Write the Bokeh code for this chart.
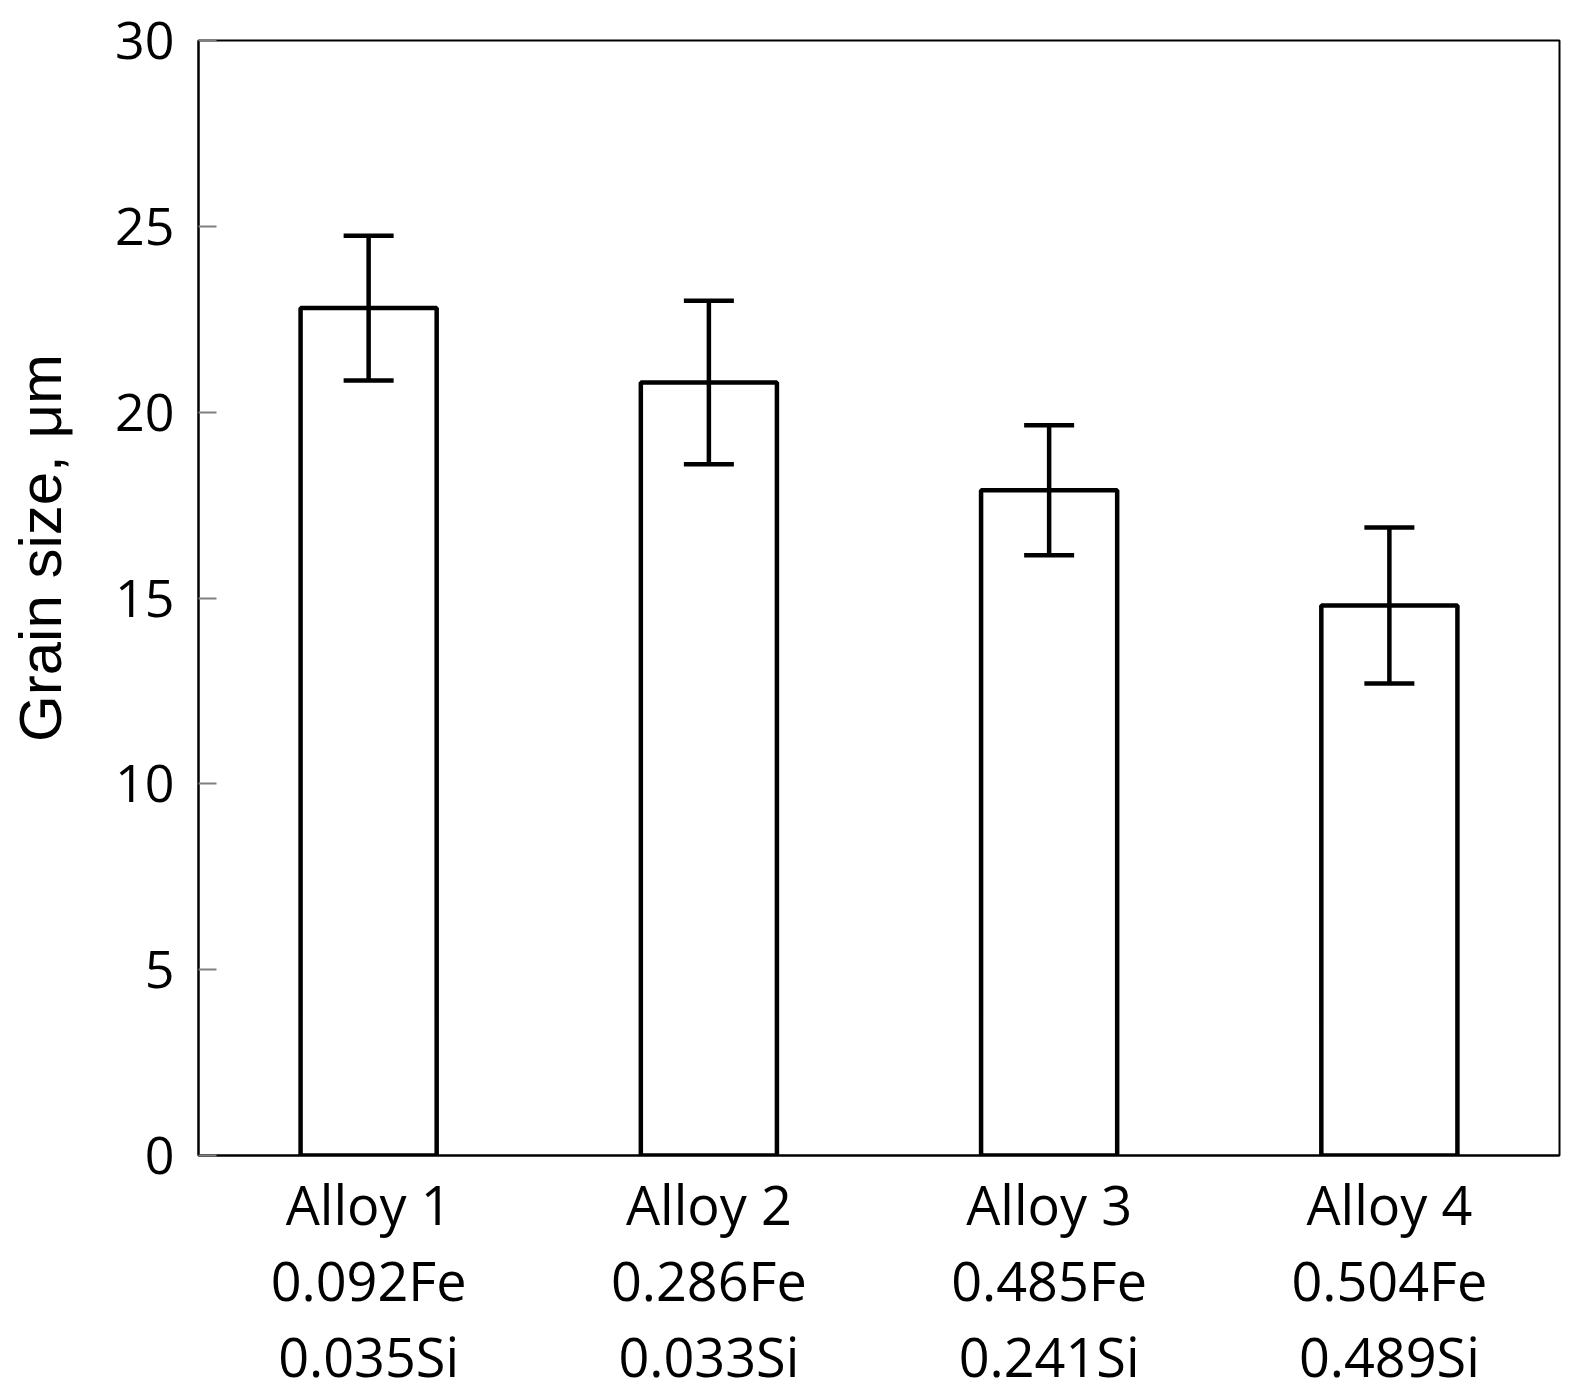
from bokeh.plotting import figure
from bokeh.models import (ColumnDataSource, Whisker, TeeHead, FixedTicker, Range1d,
                          FactorRange, CategoricalAxis)
from bokeh.embed import file_html
from bokeh.resources import INLINE

alloys = ["Alloy 1", "Alloy 2", "Alloy 3", "Alloy 4"]
fe = ["0.092Fe", "0.286Fe", "0.485Fe", "0.504Fe"]
si = ["0.035Si", "0.033Si", "0.241Si", "0.489Si"]
grain = [22.8, 20.8, 17.9, 14.8]
err = [1.95, 2.2, 1.75, 2.1]
yticks = [0, 5, 10, 15, 20, 25, 30]

FONT = "Open Sans"
FS = "54px"

src = ColumnDataSource(dict(
    x=alloys, top=grain,
    upper=[g + e for g, e in zip(grain, err)],
    lower=[g - e for g, e in zip(grain, err)],
))

p = figure(x_range=FactorRange(*alloys, range_padding=0), y_range=Range1d(0, 30),
           width=1567, height=1395, output_backend="svg", toolbar_location=None,
           min_border_left=198, min_border_top=40, min_border_right=8, min_border_bottom=20)
p.extra_x_ranges = {"fe": FactorRange(*fe, range_padding=0),
                    "si": FactorRange(*si, range_padding=0)}

p.vbar(x="x", top="top", width=0.4, source=src, fill_color="white",
       line_color="black", line_width=4.5)

w = Whisker(base="x", upper="upper", lower="lower", source=src,
            line_color="black", line_width=4.5, level="overlay",
            upper_head=TeeHead(size=50, line_width=4.5, line_color="black"),
            lower_head=TeeHead(size=50, line_width=4.5, line_color="black"))
p.add_layout(w)

p.xgrid.visible = False
p.ygrid.visible = False
p.outline_line_color = "black"
p.outline_line_width = 2
p.background_fill_color = "white"
p.border_fill_color = "white"

p.yaxis.ticker = FixedTicker(ticks=yticks)
p.yaxis.major_tick_in = 18
p.yaxis.major_tick_out = 0
p.yaxis.major_tick_line_color = "#808080"
p.yaxis.major_tick_line_width = 2
p.yaxis.minor_tick_line_color = None
p.yaxis.axis_line_color = "black"
p.yaxis.axis_line_width = 2
p.yaxis.major_label_standoff = 24
p.yaxis.major_label_text_font = FONT
p.yaxis.major_label_text_font_size = "52px"
p.yaxis.major_label_text_color = "black"
p.yaxis.axis_label = "\u00a0" * 6 + "Grain size, μm"
p.yaxis.axis_label_text_font = "Liberation Sans"
p.yaxis.axis_label_text_font_size = "60px"
p.yaxis.axis_label_text_font_style = "normal"
p.yaxis.axis_label_text_color = "black"
p.yaxis.axis_label_standoff = 38


def style_x(ax, standoff):
    ax.major_tick_line_color = None
    ax.minor_tick_line_color = None
    ax.major_label_standoff = standoff
    ax.major_label_text_font = FONT
    ax.major_label_text_font_size = FS
    ax.major_label_text_color = "black"


style_x(p.xaxis[0], 5)
p.xaxis[0].axis_line_color = "black"
p.xaxis[0].axis_line_width = 2

ax2 = CategoricalAxis(x_range_name="fe", axis_line_color=None)
style_x(ax2, -7)
p.add_layout(ax2, "below")

ax3 = CategoricalAxis(x_range_name="si", axis_line_color=None)
style_x(ax3, -7)
p.add_layout(ax3, "below")

open("out.html", "w").write(file_html(p, INLINE))
